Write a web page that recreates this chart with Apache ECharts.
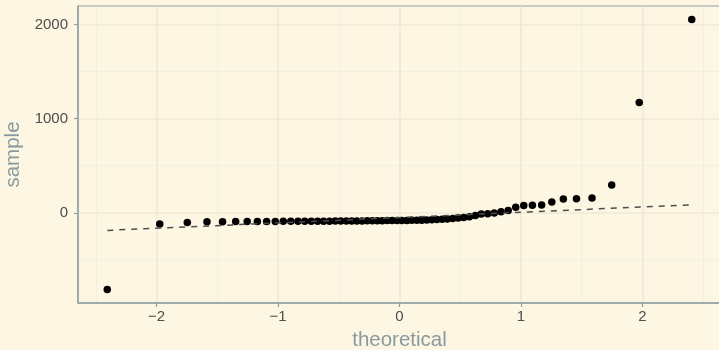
<!DOCTYPE html>
<html>
<head>
<meta charset="utf-8">
<script src="https://cdn.jsdelivr.net/npm/echarts@6/dist/echarts.min.js"></script>
<style>
  html, body { margin: 0; padding: 0; background: #fdf6e3; }
  #chart { width: 719px; height: 350px; }
</style>
</head>
<body>
<div id="chart"></div>
<script>
// Normal quantiles for n = 62 sorted observations
const theoretical = [
  -2.406, -1.974, -1.747, -1.585, -1.457, -1.349, -1.254, -1.170, -1.094, -1.023,
  -0.957, -0.895, -0.836, -0.780, -0.726, -0.674, -0.625, -0.576, -0.529, -0.483,
  -0.438, -0.394, -0.351, -0.308, -0.266, -0.224, -0.183, -0.142, -0.101, -0.061,
  -0.020,
   0.020,  0.061,  0.101,  0.142,  0.183,  0.224,  0.266,  0.308,  0.351,  0.394,
   0.438,  0.483,  0.529,  0.576,  0.625,  0.674,  0.726,  0.780,  0.836,  0.895,
   0.957,  1.023,  1.094,  1.170,  1.254,  1.349,  1.457,  1.585,  1.747,  1.974,
   2.406
];

// Sorted sample values
const sample = [
  -815, -118, -103, -96, -94, -93, -93, -92, -92, -92,
   -91,  -91,  -91, -90, -90, -89, -89, -89, -88, -88,
   -87,  -87,  -86, -86, -85, -85, -84, -84, -83, -83,
   -82,
   -82,  -81,  -80, -79, -78, -76, -74, -71, -68, -65,
   -61,  -56,  -50, -43, -30, -12, -10,  -2,  10,  25,
    60,   78,   80,  82, 115, 146, 148, 156, 296, 1170,
  2053
];

// Reference line through the quartiles (end points)
const qqLineX = [-2.406, 2.406];
const qqLineY = [-187, 85];

const xTicks = [-2, -1, 0, 1, 2];
const yTicks = [0, 1000, 2000];

const FONT = '"Liberation Sans", Arial, Helvetica, sans-serif';
const gridMajor = '#eee8d5';
const gridMinor = '#f3eddb';
const axisGrey = '#93a1a1';
const labelGrey = '#4d4d4d';
const titleGrey = '#889b9f';

const points = theoretical.map((x, i) => [x, sample[i]]);
const qqLine = qqLineX.map((x, i) => [x, qqLineY[i]]);

const signed = v => (v < 0 ? '\u2212' + Math.abs(v) : String(v));

const chart = echarts.init(document.getElementById('chart'), null, { renderer: 'canvas' });

chart.setOption({
  backgroundColor: '#fdf6e3',
  animation: false,
  grid: {
    left: 78, top: 6, width: 643, height: 297,
    containLabel: false,
    outerBoundsMode: 'none',
    show: true,
    backgroundColor: '#fdf6e3',
    borderColor: axisGrey,
    borderWidth: 1
  },
  xAxis: {
    type: 'value',
    min: -2.647, max: 2.647,
    splitNumber: 5,
    name: 'theoretical',
    nameLocation: 'middle',
    nameGap: 27,
    nameTextStyle: { color: titleGrey, fontSize: 20.5, fontFamily: FONT },
    axisLine: { show: true, onZero: false, lineStyle: { color: axisGrey, width: 1.5 } },
    axisTick: { show: true, length: 4, customValues: xTicks, lineStyle: { color: axisGrey, width: 1.2 } },
    axisLabel: {
      customValues: xTicks,
      color: labelGrey, fontSize: 15, fontFamily: FONT, margin: 6,
      formatter: signed
    },
    splitLine: { show: true, lineStyle: { color: gridMajor, width: 1.6 } },
    minorTick: { show: false, splitNumber: 2 },
    minorSplitLine: { show: true, lineStyle: { color: gridMinor, width: 0.9 } }
  },
  yAxis: {
    type: 'value',
    min: -958, max: 2196,
    splitNumber: 3,
    name: 'sample',
    nameLocation: 'middle',
    nameGap: 50,
    nameTextStyle: { color: titleGrey, fontSize: 20.5, fontFamily: FONT },
    axisLine: { show: true, onZero: false, lineStyle: { color: axisGrey, width: 1.5 } },
    axisTick: { show: true, length: 4, customValues: yTicks, lineStyle: { color: axisGrey, width: 1.2 } },
    axisLabel: {
      customValues: yTicks,
      color: labelGrey, fontSize: 15, fontFamily: FONT, margin: 10,
      formatter: signed
    },
    splitLine: { show: true, lineStyle: { color: gridMajor, width: 1.6 } },
    minorTick: { show: false, splitNumber: 2 },
    minorSplitLine: { show: true, lineStyle: { color: gridMinor, width: 0.9 } }
  },
  series: [
    {
      type: 'scatter',
      data: points,
      symbol: 'circle',
      symbolSize: 7.5,
      itemStyle: { color: '#000000', opacity: 1 },
      z: 3
    },
    {
      type: 'line',
      data: qqLine,
      showSymbol: false,
      symbol: 'none',
      lineStyle: { color: '#4d4d4d', width: 1.5, type: [6, 6], opacity: 1 },
      z: 4,
      silent: true
    }
  ]
});
</script>
</body>
</html>
